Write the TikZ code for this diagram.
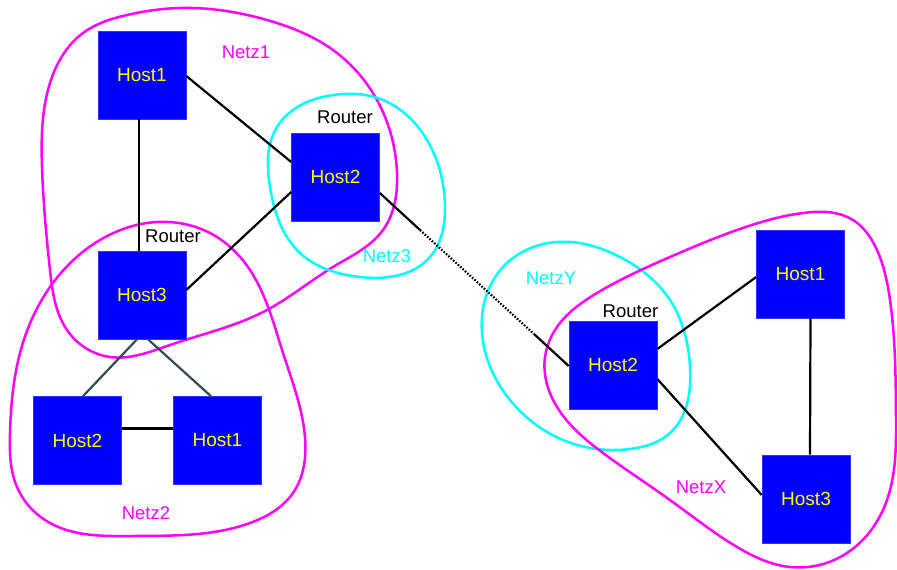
\documentclass[tikz,border=0pt]{standalone}
\usepackage{fontspec}
\setmainfont{Liberation Sans}
\usetikzlibrary{calc,hobby}
\definecolor{hostblue}{HTML}{0000FF}
\definecolor{hostlabel}{HTML}{FFFF00}
\definecolor{netmag}{HTML}{FF00FF}
\definecolor{netcyan}{HTML}{00FFFF}
\definecolor{slatelink}{HTML}{2F4F4F}
\begin{document}
\begin{tikzpicture}[x=1pt,y=-1pt,
  host/.style={fill=hostblue,draw=hostblue!80!white,line width=0.6pt,minimum size=88pt,inner sep=0pt,
               text=hostlabel,font=\fontsize{19}{22}\selectfont},
  tag/.style={inner sep=0pt,font=\fontsize{18.5}{22}\selectfont},
  link/.style={line width=2.2pt,black},
  sublink/.style={line width=2.2pt,slatelink},
  dottedlink/.style={line width=2.2pt,black,dash pattern=on 1.6pt off 1.6pt},
  magnet/.style={netmag,line width=2.5pt},
  cyannet/.style={netcyan,line width=2.5pt}]
\useasboundingbox (0,0) rectangle (897,570);

% network outlines
\draw[magnet] plot[closed hobby] coordinates {
  (180,8) (267,20) (333,50) (377,100) (397,173) (383,230) (333,267)
  (267,310) (170,345) (110,357) (67,330) (50,270) (42,167) (50,83) (83,33) (127,15)};
\draw[magnet] plot[closed hobby] coordinates {
  (157,222) (217,237) (250,270) (283,353) (305,437) (293,493) (250,523)
  (133,536) (50,523) (17,487) (10,433) (20,353) (50,287) (100,240)};
\draw[cyannet] plot[closed hobby] coordinates {
  (333,95) (383,100) (427,140) (445,207) (430,257) (360,277) (300,253)
  (270,187) (277,127)};
\draw[cyannet] plot[closed hobby] coordinates {
  (557,242) (620,257) (670,300) (690,367) (670,433) (630,449) (563,440)
  (510,400) (482,333) (503,267)};
\draw[magnet] plot[closed hobby] coordinates {
  (545,357) (557,327) (597,293) (670,257) (737,230) (803,213) (853,220)
  (877,250) (890,300) (896,417) (887,500) (847,553) (790,567) (737,547)
  (670,500) (603,453) (557,407)};

% hosts
\node[host] (h1a) at (142,75) {Host1};
\node[host] (r1)  at (335.5,177) {Host2};
\node[host] (h3a) at (142,295) {Host3};
\node[host] (h2b) at (77.5,440.5) {Host2};
\node[host] (h1b) at (217.5,440.5) {Host1};
\node[host] (r2)  at (613,365) {Host2};
\node[host] (h1c) at (800.5,274) {Host1};
\node[host] (h3c) at (806,499) {Host3};

% labels
\node[tag] (rt1) at (345,117) {Router};
\node[tag] (rt2) at (173,236) {Router};
\node[tag] (rt3) at (630.5,311) {Router};
\node[tag,text=netmag]  (n1) at (246,52) {Netz1};
\node[tag,text=netcyan] (n3) at (387,256) {Netz3};
\node[tag,text=netmag]  (n2) at (146,513) {Netz2};
\node[tag,text=netcyan] (ny) at (551,278) {NetzY};
\node[tag,text=netmag]  (nx) at (701,487) {NetzX};

% links
\draw[link] ($(h1a.east)+(0,1)$) -- ($(r1.west)+(0,-15)$);
\draw[link] ($(h1a.south)+(-3,0)$) -- ($(h3a.north)+(-3,0)$);
\draw[link] ($(h3a.east)+(0,-5)$) -- ($(r1.west)+(0,15)$);
\draw[link] ($(h2b.east)+(0,-12)$) -- ($(h1b.west)+(0,-12)$);
\draw[sublink] ($(h3a.south)+(-5,0)$) -- ($(h2b.north)+(5.5,0)$);
\draw[sublink] ($(h3a.south)+(6,0)$) -- ($(h1b.north)+(-6.5,0)$);
\draw[link] ($(r2.east)+(0,-16)$) -- ($(h1c.west)+(0,3)$);
\draw[link] ($(r2.east)+(0,14)$) -- ($(h3c.west)+(0,-4)$);
\draw[link] ($(h1c.south)+(10,0)$) -- ($(h3c.north)+(4,0)$);

% router uplink with dotted middle section
\coordinate (dA) at (420,230);
\coordinate (dB) at (534,334);
\draw[link] ($(r1.east)+(0,16)$) -- (dA);
\draw[dottedlink] (dA) -- (dB);
\draw[link] (dB) -- ($(r2.west)+(0,1)$);
\end{tikzpicture}
\end{document}
